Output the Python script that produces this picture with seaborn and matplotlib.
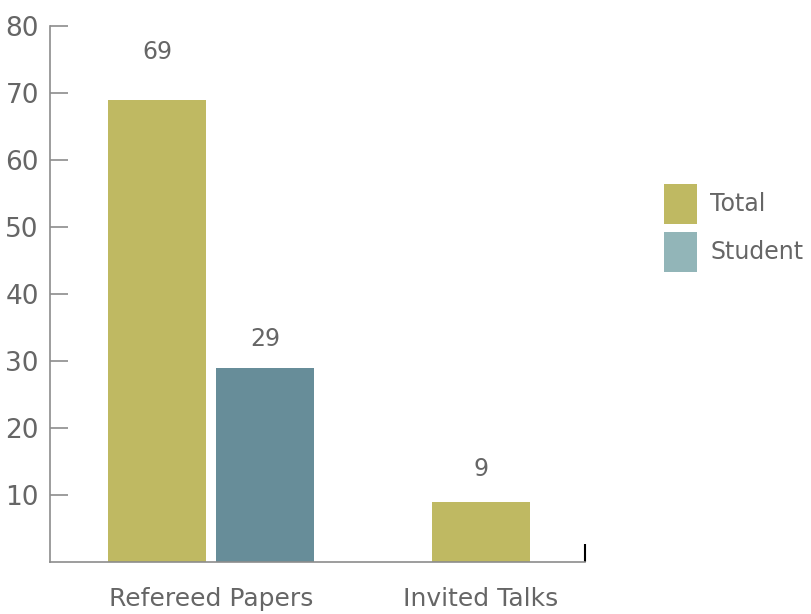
import matplotlib
matplotlib.use("Agg")
import matplotlib.pyplot as plt
from matplotlib.patches import Patch
import pandas as pd
import seaborn as sns

categories = ["Refereed Papers", "Invited Talks"]
series = ["Total", "Student"]
refereed_values = [69, 29]
invited_values = [9]

bar_colors = {"Total": "#bfb962", "Student": "#678d99"}
legend_colors = {"Total": "#bfb962", "Student": "#92b5b8"}
text_color = "#666666"
axis_color = "#8c8c8c"

sns.set_theme(style="white")
plt.rcParams["font.family"] = ["DejaVu Sans"]

paired = pd.DataFrame({"category": [categories[0]] * 2,
                       "series": series,
                       "value": refereed_values})
single = pd.DataFrame({"category": [categories[1]],
                       "series": [series[0]],
                       "value": invited_values})

fig = plt.figure(figsize=(8.11, 6.14), dpi=100)
ax = fig.add_axes([50 / 811, 1 - 562 / 614, 535 / 811, 536 / 614])

# grouped bars where both series exist, a single centred bar otherwise
sns.barplot(data=paired, x="category", y="value", hue="series", order=categories,
            hue_order=series, palette=bar_colors, dodge=True, gap=0.09,
            saturation=1, linewidth=0, ax=ax, legend=False)
sns.barplot(data=single, x="category", y="value", hue="series", order=categories,
            hue_order=series, palette=bar_colors, dodge=False, width=0.364,
            saturation=1, linewidth=0, ax=ax, legend=False)

# value labels above the bars
label_pads = [25.5, 12, 15]
labelled = [c for c in ax.containers if len(c) > 0]
for container, pad in zip(labelled, label_pads):
    ax.bar_label(container, padding=pad, fontsize=17, color=text_color)

left, right = -0.596, 1.385
ax.set_xlim(left, right)
ax.set_ylim(0, 80)
ax.set_yticks([10, 20, 30, 40, 50, 60, 70, 80])
ax.set_xlabel("")
ax.set_ylabel("")

for side in ("top", "right"):
    ax.spines[side].set_visible(False)
for side in ("left", "bottom"):
    ax.spines[side].set_color(axis_color)
    ax.spines[side].set_linewidth(1.2)

ax.tick_params(axis="y", left=True, direction="in", length=13, width=1.2,
               color=axis_color, labelsize=19, labelcolor=text_color, pad=8)
ax.tick_params(axis="x", which="major", bottom=False, length=0, labelsize=18,
               labelcolor=text_color, pad=18)
ax.set_xticks([right], minor=True)
ax.tick_params(axis="x", which="minor", bottom=True, direction="in", length=13,
               width=1.5, color="black")

handles = [Patch(facecolor=legend_colors[s], edgecolor="none", label=s) for s in series]
fig.legend(handles=handles, loc="upper left", bbox_to_anchor=(664 / 811, 1 - 184 / 614),
           frameon=False, fontsize=17, labelcolor=text_color, handlelength=1.4,
           handleheight=2.22, handletextpad=0.55, labelspacing=0.34,
           borderpad=0, borderaxespad=0)

fig.savefig("out.png", dpi=100)
